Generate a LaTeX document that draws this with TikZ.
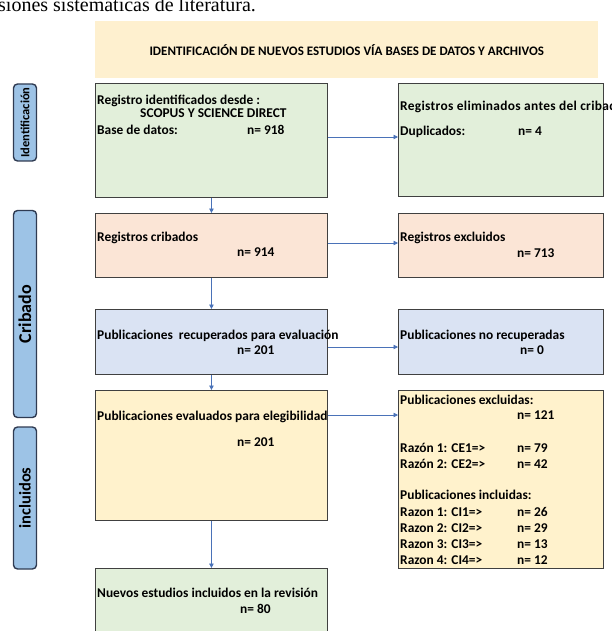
\documentclass[tikz,border=0pt]{standalone}
\usepackage{fontspec}
\setmainfont{Carlito}
\newfontfamily\captionserif{Liberation Serif}
\usetikzlibrary{calc,arrows.meta}
\definecolor{gbox}{HTML}{E2EFDA}
\definecolor{sbox}{HTML}{FBE5D6}
\definecolor{bbox}{HTML}{DAE3F3}
\definecolor{ybox}{HTML}{FFF2CC}
\definecolor{tbox}{HTML}{FEF0CF}
\definecolor{edge}{HTML}{404040}
\definecolor{labfill}{HTML}{9DC3E6}
\definecolor{labedge}{HTML}{2F3B52}
\definecolor{arr}{HTML}{4A72B8}
\tikzset{
  box/.style={draw=edge, line width=0.9pt, anchor=north west, inner sep=0pt},
  txt/.style={anchor=base west, inner sep=0pt, font=\bfseries\fontsize{13.4}{15}\selectfont},
  lab/.style={draw=labedge, fill=labfill, line width=1.4pt, rounded corners=4pt, rotate=90,
              minimum height=23pt, inner sep=0pt, font=\bfseries},
  conn/.style={draw=arr, line width=0.8pt, -{Triangle[length=4.5pt,width=4.5pt]}},
}
\begin{document}
\begin{tikzpicture}[x=1pt,y=-1pt]
\useasboundingbox (0,0) rectangle (612,631);
\clip (0,0) rectangle (612,631);

% caption fragment at top
\node[anchor=base west, inner sep=0pt, font=\captionserif\fontsize{20}{22}\selectfont] (cap) at (-2,12) {siones sistemáticas de literatura.};

% title
\node[anchor=north west, fill=tbox, minimum width=503pt, minimum height=57pt, inner sep=0pt] (title) at (95,21) {};
\node[inner sep=0pt, font=\bfseries\fontsize{13}{15}\selectfont] (titletext) at (title.center) {IDENTIFICACIÓN DE NUEVOS ESTUDIOS VÍA BASES DE DATOS Y ARCHIVOS};

% phase labels
\node[lab, minimum width=77pt, font=\bfseries\fontsize{12.5}{14}\selectfont] (l1) at (25,122.5) {Identificación};
\node[lab, minimum width=207pt, font=\bfseries\fontsize{18}{20}\selectfont] (l2) at (25,314) {Cribado};
\node[lab, minimum width=142pt, font=\bfseries\fontsize{16.5}{18}\selectfont] (l3) at (25,498) {incluidos};

% left column boxes
\node[box, fill=gbox, minimum width=232pt, minimum height=114pt] (b1) at (95,83) {};
\node[box, fill=sbox, minimum width=232pt, minimum height=64pt] (b2) at (95,213) {};
\node[box, fill=bbox, minimum width=232pt, minimum height=65pt] (b3) at (95,309) {};
\node[box, fill=ybox, minimum width=232pt, minimum height=130pt] (b4) at (95,390) {};
\node[box, fill=gbox, minimum width=232pt, minimum height=80pt] (b5) at (95,568) {};

% right column boxes
\node[box, fill=gbox, minimum width=205pt, minimum height=113pt] (r1) at (398,83) {};
\node[box, fill=sbox, minimum width=205pt, minimum height=64pt] (r2) at (398,213) {};
\node[box, fill=bbox, minimum width=205pt, minimum height=65pt] (r3) at (398,309) {};
\node[box, fill=ybox, minimum width=205pt, minimum height=178pt] (r4) at (398,390) {};

% texts, left column
\node[txt] (t1a) at (97,105) {Registro identificados desde :};
\node[txt] (t1b) at (140,118) {SCOPUS Y SCIENCE DIRECT};
\node[txt] (t1c) at (97,135) {Base de datos:};
\node[txt] (t1d) at (247,135) {n= 918};
\node[txt] (t2a) at (97,241) {Registros cribados};
\node[txt] (t2b) at (237,256) {n= 914};
\node[txt] (t3a) at (97,339) {Publicaciones\ \ recuperados para evaluación};
\node[txt] (t3b) at (237,354) {n= 201};
\node[txt] (t4a) at (97,420) {Publicaciones evaluados para elegibilidad};
\node[txt] (t4b) at (237,446) {n= 201};
\node[txt] (t5a) at (97,597) {Nuevos estudios incluidos en la revisión};
\node[txt] (t5b) at (240,613) {n= 80};

% texts, right column
\node[txt] (s1a) at (400,111) {\addfontfeature{LetterSpace=2.4}Registros eliminados antes del cribado};
\node[txt] (s1b) at (400,136) {Duplicados:};
\node[txt] (s1c) at (518,136) {n= 4};
\node[txt] (s2a) at (400,241) {Registros excluidos};
\node[txt] (s2b) at (517,257) {n= 713};
\node[txt] (s3a) at (400,339) {Publicaciones no recuperadas};
\node[txt] (s3b) at (520,354) {n= 0};
\node[txt] (s4a) at (400,404) {Publicaciones excluidas:};
\node[txt] (s4b) at (517,419) {n= 121};
\node[txt] (s4c) at (400,452) {Razón 1: CE1=>};
\node[txt] (s4d) at (517,452) {n= 79};
\node[txt] (s4e) at (400,468) {Razón 2: CE2=>};
\node[txt] (s4f) at (517,468) {n= 42};
\node[txt] (s4g) at (400,499) {Publicaciones incluidas:};
\node[txt] (s4h) at (400,516) {Razon 1: CI1=>};
\node[txt] (s4i) at (517,516) {n= 26};
\node[txt] (s4j) at (400,532) {Razon 2: CI2=>};
\node[txt] (s4k) at (517,532) {n= 29};
\node[txt] (s4l) at (400,548) {Razon 3: CI3=>};
\node[txt] (s4m) at (517,548) {n= 13};
\node[txt] (s4n) at (400,564) {Razon 4: CI4=>};
\node[txt] (s4o) at (517,564) {n= 12};

% connectors
\coordinate (c1) at ($(b1.north east)+(0,54)$);
\coordinate (c2) at ($(b2.north east)+(0,30)$);
\coordinate (c3) at ($(b3.north east)+(0,38)$);
\coordinate (c4) at ($(b4.north east)+(0,25)$);
\draw[conn] (c1) -- (c1 -| r1.west);
\draw[conn] (c2) -- (c2 -| r2.west);
\draw[conn] (c3) -- (c3 -| r3.west);
\draw[conn] (c4) -- (c4 -| r4.west);
\draw[conn] (b1.south) -- (b2.north);
\draw[conn] (b2.south) -- (b3.north);
\draw[conn] (b3.south) -- (b4.north);
\draw[conn] (b4.south) -- (b5.north);
\end{tikzpicture}
\end{document}
